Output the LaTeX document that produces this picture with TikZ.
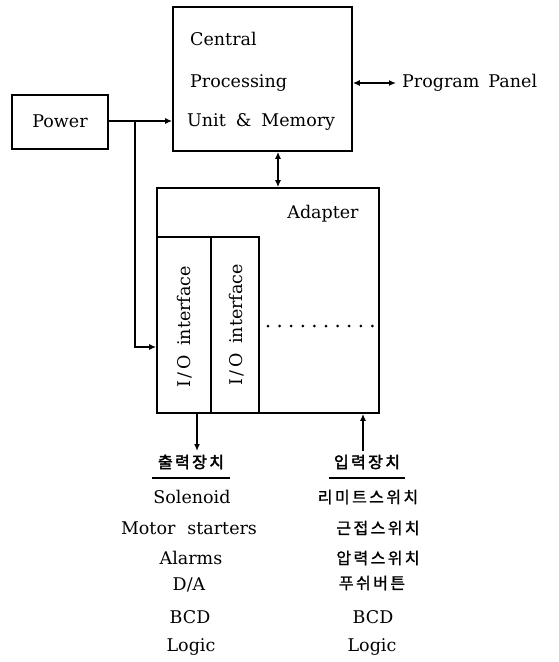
\documentclass[tikz,border=0pt]{standalone}
\usepackage{fontspec}
\setmainfont{DejaVu Serif}
\newfontfamily\kr[LetterSpace=15,FakeBold=1.2]{Noto Sans CJK KR}
\newfontfamily\krb[LetterSpace=15,FakeBold=2.5]{Noto Sans CJK KR}
\usetikzlibrary{arrows.meta}
\begin{document}
\begin{tikzpicture}[x=1pt,y=-1pt,
  box/.style={draw,line width=1.6pt,inner sep=0pt},
  lbl/.style={inner sep=0pt,font=\fontsize{17.5}{21}\selectfont},
  krl/.style={inner sep=0pt,font=\kr\fontsize{16}{20}\selectfont},
  krh/.style={inner sep=0pt,font=\krb\fontsize{16}{20}\selectfont},
  conn/.style={line width=1.4pt},
  arr/.style={conn,-{Latex[length=7pt,width=6pt]}},
  darr/.style={conn,{Latex[length=7pt,width=6pt]}-{Latex[length=7pt,width=6pt]}}]
\useasboundingbox (0,0) rectangle (558,662);
% boxes
\node[box,minimum width=96,minimum height=54] (power) at (60,122) {};
\node[lbl] (powert) at (60,121) {Power};
\node[box,minimum width=179,minimum height=144] (cpu) at (262.5,79) {};
\node[lbl,anchor=west] (c1) at (190,39) {Central};
\node[lbl,anchor=west] (c2) at (190,83) {Processing};
\node[lbl,anchor=west] (c3) at (187,122) {Unit\hspace{10pt}\&\hspace{10pt}Memory};
\node[lbl,anchor=west] (pp) at (402,83) {Program\hspace{9pt}Panel};
\node[box,minimum width=222,minimum height=225] (adapter) at (268,300.5) {};
\node[lbl] (adt) at (323,214) {Adapter};
\node[box,minimum width=54,minimum height=176] (io1) at (184,325) {};
\node[box,minimum width=48,minimum height=176] (io2) at (235,325) {};
\node[lbl,rotate=90] (io1t) at (185,327) {I\,/\,O\hspace{9pt}interface};
\node[lbl,rotate=90] (io2t) at (237,325) {I\,/\,O\hspace{9pt}interface};
\foreach \i in {0,...,9} \fill (268+11.6*\i,326) circle (1.5pt);
% connectors
\draw[arr] (power.east |- 0,121) -- (cpu.west |- 0,121);
\coordinate (j) at (135,121);
\coordinate (jin) at (adapter.west |- 0,347);
\draw[arr] (j) |- (jin);
\draw[darr] (cpu.south -| 278,0) -- (adapter.north -| 278,0);
\coordinate (ppl) at (396,83);
\draw[darr] (cpu.east |- 0,83) -- (ppl);
\coordinate (outp) at (197,451);
\draw[arr] (adapter.south -| outp) -- (outp);
\coordinate (inp) at (363,451);
\draw[arr] (inp) -- (adapter.south -| inp);
% output list
\node[krh] (oh) at (191,462) {출력장치};
\draw[line width=1.8pt] (152,478) -- (230,478);
\node[lbl] (o1) at (192,497) {Solenoid};
\node[lbl] (o2) at (189,528) {Motor\hspace{12pt}starters};
\node[lbl] (o3) at (191,558) {Alarms};
\node[lbl] (o4) at (189,585) {D/A};
\node[lbl] (o5) at (190,617) {BCD};
\node[lbl] (o6) at (191,647) {Logic};
% input list
\node[krh] (ih) at (367,462) {입력장치};
\draw[line width=1.8pt] (329,478) -- (405,478);
\node[krl] (i1) at (368,497) {리미트스위치};
\node[krl] (i2) at (378,528) {근접스위치};
\node[krl] (i3) at (378,558) {압력스위치};
\node[krl] (i4) at (372,583) {푸쉬버튼};
\node[lbl] (i5) at (373,617) {BCD};
\node[lbl] (i6) at (372,647) {Logic};
\end{tikzpicture}
\end{document}
